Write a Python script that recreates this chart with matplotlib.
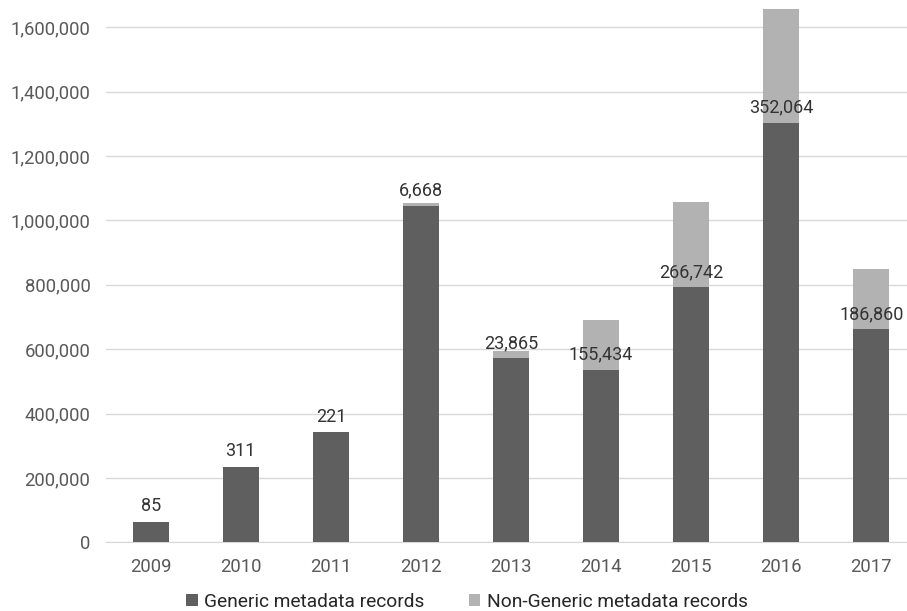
import matplotlib.pyplot as plt
import numpy as np
from matplotlib.ticker import FuncFormatter

plt.rcParams['font.family'] = ['Roboto', 'DejaVu Sans']

years = ['2009', '2010', '2011', '2012', '2013', '2014', '2015', '2016', '2017']
generic = [64000, 235000, 342000, 1046000, 572000, 535000, 792000, 1304000, 662000]
non_generic = [85, 311, 221, 6668, 23865, 155434, 266742, 352064, 186860]

dark = '#5f5f5f'
light = '#b2b2b2'
text_col = '#595959'

fig = plt.figure(figsize=(9.07, 6.11), dpi=100)
ax = fig.add_axes([0.1165, 0.1124, 0.8937, 0.8876])

x = np.arange(len(years))
ax.bar(x, generic, width=0.4, color=dark, label='Generic metadata records', zorder=3)
ax.bar(x, non_generic, width=0.4, bottom=generic, color=light,
       label='Non-Generic metadata records', zorder=3)

# labels sit just above the generic part
for xi, g, n in zip(x, generic, non_generic):
    ax.annotate(f'{n:,}', (xi, g), xytext=(0, 11), textcoords='offset points',
                ha='center', va='center', fontsize=13, color='#333333', zorder=4)

ax.set_xlim(-0.5, len(years) - 0.5)
ax.set_ylim(0, 1684700)
ax.set_yticks(np.arange(0, 1600001, 200000))
ax.yaxis.set_major_formatter(FuncFormatter(lambda v, p: f'{int(v):,}'))
ax.set_xticks(x)
ax.set_xticklabels(years)
ax.tick_params(axis='both', length=0, labelsize=13.3, labelcolor=text_col)
ax.tick_params(axis='x', pad=11)
ax.tick_params(axis='y', pad=11)
ax.grid(axis='y', color='#d9d9d9', linewidth=1, zorder=0)
for s in ['top', 'right', 'left']:
    ax.spines[s].set_visible(False)
ax.spines['bottom'].set_color('#d9d9d9')

fig.legend(loc='lower center', bbox_to_anchor=(0.515, -0.028), ncol=2, frameon=False,
           prop={'size': 13.8}, handlelength=0.6, handleheight=0.6, handletextpad=0.35,
           columnspacing=2.3, labelcolor='#262626')

fig.savefig('out.png', dpi=100)
